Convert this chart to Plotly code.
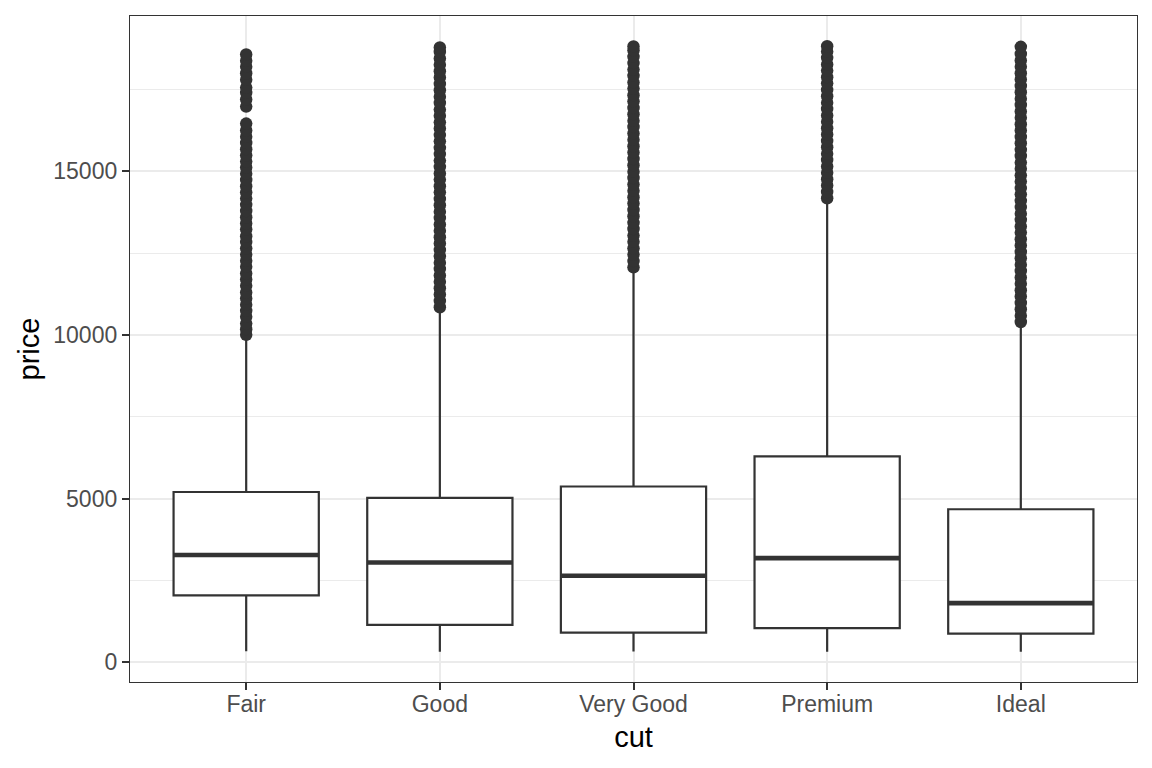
import plotly.graph_objects as go

# ---- data ----
cuts = ["Fair", "Good", "Very Good", "Premium", "Ideal"]
q1 = [2050, 1145, 912, 1046, 878]
median = [3282, 3050, 2648, 3185, 1810]
q3 = [5206, 5028, 5373, 6296, 4678]
lower_whisker = [337, 327, 336, 326, 326]
upper_whisker = [9930, 10840, 12050, 14170, 10370]

fair_out = [10010, 10180, 10350, 10560, 10740, 10930, 11120, 11300, 11510, 11700,
            11880, 12090, 12270, 12460, 12650, 12840, 13020, 13230, 13410, 13600,
            13790, 13980, 14170, 14360, 14550, 14740, 14930, 15120, 15300, 15490,
            15680, 15870, 16060, 16250, 16460, 16980, 17200, 17400, 17560, 17800,
            18000, 18200, 18380, 18574]
good_out = [10850, 11040, 11240, 11430, 11630, 11820, 12020, 12210, 12410, 12600,
            12800, 12990, 13190, 13380, 13580, 13770, 13970, 14160, 14360, 14550,
            14750, 14940, 15140, 15330, 15530, 15720, 15920, 16110, 16310, 16500,
            16700, 16890, 17090, 17280, 17480, 17670, 17870, 18060, 18260, 18450,
            18650, 18788]
vgood_out = [12070, 12260, 12460, 12650, 12850, 13040, 13240, 13430, 13630, 13820,
             14020, 14210, 14410, 14600, 14800, 14990, 15190, 15380, 15580, 15770,
             15970, 16160, 16360, 16550, 16750, 16940, 17140, 17330, 17530, 17720,
             17920, 18110, 18310, 18500, 18700, 18818]
premium_out = [14180, 14370, 14570, 14760, 14960, 15150, 15350, 15540, 15740, 15930,
               16130, 16320, 16520, 16710, 16910, 17100, 17300, 17490, 17690, 17880,
               18080, 18270, 18470, 18660, 18823]
ideal_out = [10400, 10590, 10790, 10980, 11180, 11370, 11570, 11760, 11960, 12150,
             12350, 12540, 12740, 12930, 13130, 13320, 13520, 13710, 13910, 14100,
             14300, 14490, 14690, 14880, 15080, 15270, 15470, 15660, 15860, 16050,
             16250, 16440, 16640, 16830, 17030, 17220, 17420, 17610, 17810, 18000,
             18200, 18390, 18590, 18806]
outliers = [fair_out, good_out, vgood_out, premium_out, ideal_out]

y_ticks = [0, 5000, 10000, 15000]
y_tick_labels = ["0", "5000", "10000", "15000"]

# ---- styling ----
DARK = "#333333"
GRID = "#EBEBEB"
TICKTXT = "#4D4D4D"
FONT = "Liberation Sans, Arial, sans-serif"
BOX_W = 0.75

xpos = list(range(len(cuts)))

fig = go.Figure()

fig.add_trace(go.Box(
    x=xpos, q1=q1, median=median, q3=q3,
    lowerfence=lower_whisker, upperfence=upper_whisker,
    width=BOX_W, boxpoints=False, whiskerwidth=0,
    line=dict(color=DARK, width=2.2), fillcolor="white",
    showlegend=False, hoverinfo="skip",
))

# thicker median lines (ggplot fatten)
mx, my = [], []
for p, m in zip(xpos, median):
    mx += [p - BOX_W / 2, p + BOX_W / 2, None]
    my += [m, m, None]
fig.add_trace(go.Scatter(x=mx, y=my, mode="lines",
                         line=dict(color=DARK, width=4.6),
                         showlegend=False, hoverinfo="skip"))

ox, oy = [], []
for p, vals in zip(xpos, outliers):
    ox += [p] * len(vals)
    oy += vals
fig.add_trace(go.Scatter(x=ox, y=oy, mode="markers",
                         marker=dict(color=DARK, size=12.5, line=dict(width=0)),
                         showlegend=False, hoverinfo="skip"))

fig.update_layout(
    width=1144, height=761,
    margin=dict(l=122, r=15, t=8, b=87),
    paper_bgcolor="white", plot_bgcolor="white",
    font=dict(family=FONT, color=TICKTXT),
    showlegend=False,
)
fig.update_xaxes(
    range=[-0.6, 4.6], tickmode="array", tickvals=xpos, ticktext=cuts,
    showgrid=True, gridcolor=GRID, gridwidth=2.2, zeroline=False,
    showline=True, mirror=True, linecolor=DARK, linewidth=1.3,
    ticks="outside", ticklen=7, tickwidth=2.2, tickcolor=DARK,
    tickfont=dict(size=23, color=TICKTXT, family=FONT),
    ticklabelstandoff=-6,
    title=dict(text="cut", font=dict(size=29, color="black", family=FONT), standoff=10),
)
fig.update_yaxes(
    range=[-599, 19748], tickmode="array", tickvals=y_ticks, ticktext=y_tick_labels,
    showgrid=True, gridcolor=GRID, gridwidth=2.2, zeroline=False,
    minor=dict(dtick=2500, tick0=0, showgrid=True, gridcolor=GRID, gridwidth=1.1, ticks=""),
    showline=True, mirror=True, linecolor=DARK, linewidth=1.3,
    ticks="outside", ticklen=7, tickwidth=2.2, tickcolor=DARK,
    tickfont=dict(size=23, color=TICKTXT, family=FONT),
    title=dict(text="price", font=dict(size=29, color="black", family=FONT), standoff=5),
)

fig.write_html("out.html")
